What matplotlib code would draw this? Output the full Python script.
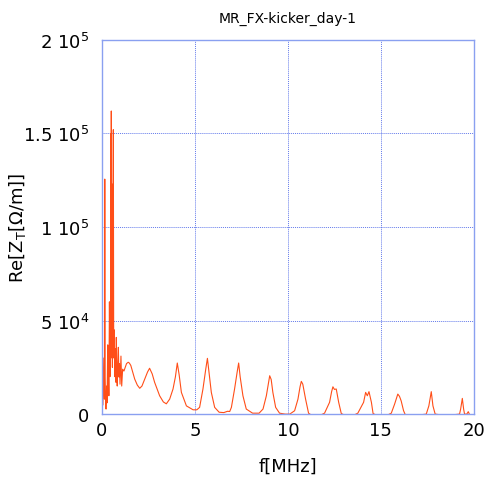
import matplotlib
matplotlib.use("Agg")
import matplotlib.pyplot as plt

# Data (f in MHz, Re[Z_T] in Ohm/m)
freq_mhz = [
    0.05, 0.10, 0.13, 0.15, 0.17, 0.20, 0.22, 0.25, 0.27, 0.31, 0.33, 0.35, 0.37,
    0.40, 0.43, 0.46, 0.48, 0.49, 0.50, 0.52, 0.54, 0.56, 0.58, 0.61, 0.63, 0.66,
    0.69, 0.72, 0.75, 0.77, 0.79, 0.82, 0.85, 0.88, 0.91, 0.94, 0.97, 1.02, 1.06,
    1.11, 1.18, 1.25, 1.32, 1.41, 1.47, 1.55, 1.76, 1.90, 2.03, 2.15, 2.30, 2.45,
    2.56, 2.70, 2.83, 3.10, 3.30, 3.46, 3.64, 3.82, 3.95, 4.05, 4.15, 4.27, 4.54,
    4.90, 5.10, 5.25, 5.43, 5.58, 5.67, 5.76, 5.88, 6.06, 6.30, 6.55, 6.75, 6.87,
    6.96, 7.13, 7.27, 7.35, 7.43, 7.58, 7.76, 8.10, 8.45, 8.66, 8.84, 8.95, 9.02,
    9.10, 9.19, 9.34, 9.55, 9.85, 10.10, 10.36, 10.54, 10.65, 10.72, 10.80, 10.95,
    11.11, 11.30, 11.70, 11.97, 12.24, 12.35, 12.42, 12.50, 12.60, 12.73, 12.87,
    13.10, 13.50, 13.76, 14.07, 14.18, 14.27, 14.36, 14.49, 14.58, 14.80, 15.30,
    15.56, 15.74, 15.91, 16.00, 16.09, 16.22, 16.32, 16.80, 17.44, 17.58, 17.71,
    17.80, 17.92, 18.50, 19.23, 19.29, 19.38, 19.45, 19.50, 19.62, 19.70, 19.78,
    20.00,
]
re_zt = [
    5000, 30000, 8000, 125600, 20000, 3000, 2700, 15000, 6000, 37000, 12000, 24000, 9800,
    60000, 20000, 45000, 150000, 30000, 162000, 40000, 123000, 25000, 70000, 152000, 30000, 45000,
    20000, 35000, 17000, 41000, 25000, 15000, 28000, 35700, 19800, 27000, 16000, 31000, 15000,
    24000, 23000, 25000, 27000, 27700, 27300, 26000, 18700, 15500, 13800, 15000, 18700, 22500,
    24500, 21500, 17000, 9800, 6500, 5500, 8000, 13400, 20000, 27300, 21000, 11600, 4400,
    2300, 2300, 3600, 13400, 24000, 29800, 22000, 11600, 3600, 1000, 800, 1500, 1400,
    3600, 13400, 22500, 27300, 20000, 9800, 2700, 500, 500, 2700, 9800, 16500, 20500,
    18500, 11600, 3600, 500, 0, 0, 1800, 8000, 14500, 17500, 16000, 8000,
    500, -800, -800, 500, 6300, 12000, 14600, 13200, 13400, 6300, 300,
    -800, -800, 500, 6300, 11600, 9800, 12000, 6300, 300, -800, -800,
    500, 5400, 10700, 9500, 7100, 1800, -500, -800, 0, 4400, 12000,
    4400, 0, -800, 0, 2700, 8400, 2700, 0, 0, 1300, -500,
    -800,
]

x_ticks = [0, 5, 10, 15, 20]
x_tick_labels = ["0", "5", "10", "15", "20"]
y_ticks = [0, 50000, 100000, 150000, 200000]
y_tick_labels = ["0", r"5 10$^4$", r"1 10$^5$", r"1.5 10$^5$", r"2 10$^5$"]

fig = plt.figure(figsize=(4.88, 4.81), dpi=100)
ax = fig.add_axes([0.209, 0.137, 0.762, 0.778])

ax.plot(freq_mhz, re_zt, color="#ff4e18", lw=0.8)

ax.set_xlim(0, 20)
ax.set_ylim(0, 200000)
ax.set_xticks(x_ticks)
ax.set_xticklabels(x_tick_labels)
ax.set_yticks(y_ticks)
ax.set_yticklabels(y_tick_labels)
ax.tick_params(axis="both", length=0, labelsize=13, colors="black")
ax.tick_params(axis="y", pad=9)
ax.tick_params(axis="x", pad=5)

ax.grid(True, color="#3d5ae6", linestyle=(0, (1, 1)), linewidth=0.7, alpha=0.8)
for s in ax.spines.values():
    s.set_color("#8aa0f0")
    s.set_linewidth(1.0)

ax.set_title("MR_FX-kicker_day-1", fontsize=10, pad=13)
ax.set_xlabel("f[MHz]", fontsize=13)
ax.xaxis.set_label_coords(0.5, -0.115)
ax.set_ylabel(r"Re[Z$_{\rm T}$[Ω/m]]", fontsize=13)
ax.yaxis.set_label_coords(-0.199, 0.5)

fig.savefig("out.png", dpi=100)
